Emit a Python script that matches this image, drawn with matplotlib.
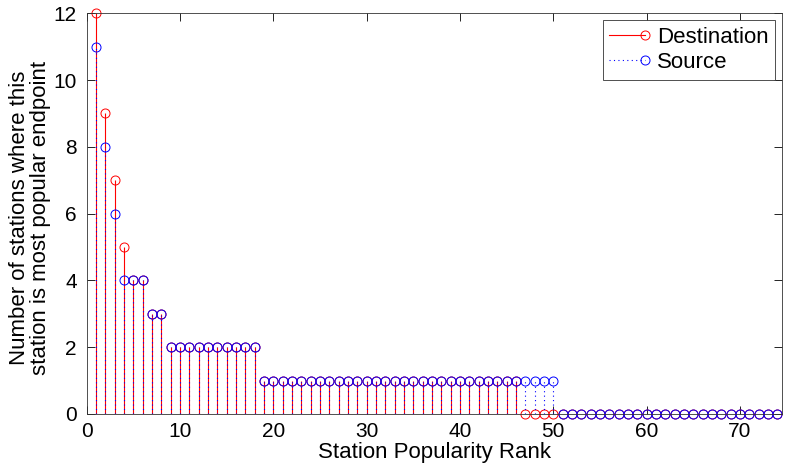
import numpy as np
import matplotlib
matplotlib.use("Agg")
import matplotlib.pyplot as plt
from matplotlib.lines import Line2D
from matplotlib.legend_handler import HandlerLine2DCompound

plt.rcParams['font.family'] = ['Liberation Sans', 'DejaVu Sans']

# === data ===
rank = np.arange(1, 75)
dest_vals = [12, 9, 7, 5, 4, 4, 3, 3] + [2] * 10 + [1] * 28 + [0] * 28
src_vals = [11, 8, 6, 4, 4, 4, 3, 3] + [2] * 10 + [1] * 32 + [0] * 24
x_ticks = [0, 10, 20, 30, 40, 50, 60, 70]
y_ticks = [0, 2, 4, 6, 8, 10, 12]

red = '#ff0000'
blue = '#0000ff'
dots = (0, (1, 3))


# marker at the right end of the legend line, like matlab's stem legend
class StemHandler(HandlerLine2DCompound):
    def create_artists(self, legend, orig_handle, xdescent, ydescent, width, height, fontsize, trans):
        line, marker = super().create_artists(legend, orig_handle, xdescent, ydescent, width, height, fontsize, trans)
        marker.set_xdata([width - xdescent])
        return [line, marker]


fig = plt.figure(figsize=(7.89, 4.68), dpi=100)
ax = fig.add_axes([0.1099, 0.1154, 0.8812, 0.8562])

ax.vlines(rank, 0, dest_vals, colors=red, linewidth=0.8)
ax.plot(rank, dest_vals, 'o', mfc='none', mec=red, ms=6.5, mew=0.7, clip_on=False)
ax.vlines(rank, 0, src_vals, colors=blue, linewidth=0.8, linestyles=dots)
ax.plot(rank, src_vals, 'o', mfc='none', mec=blue, ms=6.5, mew=0.7, clip_on=False)

ax.set_xlim(0, 74.5)
ax.set_ylim(0, 12)
ax.set_xticks(x_ticks)
ax.set_yticks(y_ticks)
ax.tick_params(direction='in', top=True, right=True, labelsize=15, length=6, width=0.6)
ax.tick_params(axis='x', pad=6)
ax.tick_params(axis='y', pad=7)
for s in ax.spines.values():
    s.set_linewidth(0.6)
    s.set_color('#333333')

ax.set_xlabel('Station Popularity Rank', fontsize=16, va='top')
ax.xaxis.set_label_coords(0.5, -0.07)
ax.set_ylabel('Number of stations where this\nstation is most popular endpoint', fontsize=16,
              linespacing=1.0, va='center', ha='center')
ax.yaxis.set_label_coords(-0.082, 0.49)

h_dest = Line2D([], [], color=red, linewidth=0.8, marker='o', mfc='none', mec=red, ms=6.5, mew=0.7)
h_src = Line2D([], [], color=blue, linewidth=0.8, linestyle=dots, marker='o', mfc='none', mec=blue, ms=6.5, mew=0.7)
leg = ax.legend([h_dest, h_src], ['Destination', 'Source'], loc='upper right', fontsize=16,
                fancybox=False, edgecolor='#333333', framealpha=1,
                handlelength=1.6, handletextpad=0.55, borderaxespad=0.3, labelspacing=0.2,
                borderpad=0.3, handler_map={Line2D: StemHandler()})
leg.get_frame().set_linewidth(0.6)

fig.savefig('out.png', dpi=100)
